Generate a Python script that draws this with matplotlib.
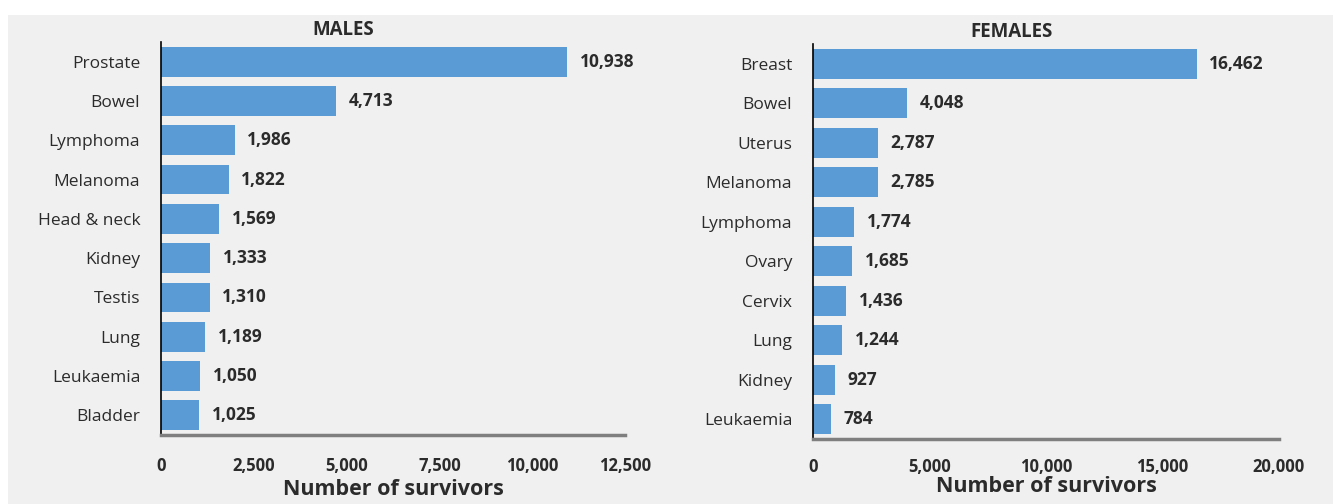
import matplotlib.pyplot as plt
from matplotlib.patches import Rectangle
from matplotlib.ticker import FuncFormatter

male_sites = ['Prostate', 'Bowel', 'Lymphoma', 'Melanoma', 'Head & neck',
              'Kidney', 'Testis', 'Lung', 'Leukaemia', 'Bladder']
male_counts = [10938, 4713, 1986, 1822, 1569, 1333, 1310, 1189, 1050, 1025]
male_ticks = [0, 2500, 5000, 7500, 10000, 12500]

female_sites = ['Breast', 'Bowel', 'Uterus', 'Melanoma', 'Lymphoma',
                'Ovary', 'Cervix', 'Lung', 'Kidney', 'Leukaemia']
female_counts = [16462, 4048, 2787, 2785, 1774, 1685, 1436, 1244, 927, 784]
female_ticks = [0, 5000, 10000, 15000, 20000]

plt.rcParams['font.family'] = ['Open Sans', 'DejaVu Sans']

bar_color = '#5b9bd5'
bg = '#f0f0f0'
txt = '#2b2b2b'

fig = plt.figure(figsize=(13.33, 5.04), dpi=100, facecolor='white')
# grey panel behind both charts, white strip above
fig.patches.append(Rectangle((8 / 1333, 0), 1, 1 - 15 / 504, transform=fig.transFigure,
                             facecolor=bg, edgecolor='none', zorder=-10))

ax_m = fig.add_axes([161 / 1333, 1 - 435 / 504, 464 / 1333, 393 / 504])
ax_f = fig.add_axes([813 / 1333, 1 - 439 / 504, 466 / 1333, 395 / 504])


def draw_panel(ax, sites, counts, ticks, title, title_x, tick_pad, label_pad):
    ax.set_facecolor('none')
    ypos = list(range(len(sites)))
    ax.barh(ypos, counts, height=0.76, color=bar_color)
    ax.set_ylim(len(sites) - 0.5, -0.5)
    ax.set_xlim(ticks[0], ticks[-1])
    ax.set_yticks(ypos)
    ax.set_yticklabels(sites, fontsize=12.5, color=txt)
    ax.set_xticks(ticks)
    ax.xaxis.set_major_formatter(FuncFormatter(lambda v, p: f'{int(v):,}'))
    for lab in ax.get_xticklabels():
        lab.set_fontweight('bold')
        lab.set_fontsize(12)
        lab.set_color(txt)
    ax.tick_params(axis='y', length=0, pad=15)
    ax.tick_params(axis='x', length=0, pad=tick_pad)
    for side in ('top', 'right'):
        ax.spines[side].set_visible(False)
    ax.spines['left'].set_color('black')
    ax.spines['left'].set_linewidth(1.2)
    ax.spines['bottom'].set_color('#7f7f7f')
    ax.spines['bottom'].set_linewidth(2.5)
    for y, v in zip(ypos, counts):
        ax.annotate(f'{v:,}', (v, y), xytext=(9, 0), textcoords='offset points',
                    va='center', ha='left', fontsize=12.5, fontweight='bold', color=txt)
    ax.set_xlabel('Number of survivors', fontsize=15.5, fontweight='bold',
                  color=txt, labelpad=label_pad)
    ax.text(title_x, 1.005, title, transform=ax.transAxes, ha='center', va='bottom',
            fontsize=13.5, fontweight='bold', color=txt)


draw_panel(ax_m, male_sites, male_counts, male_ticks, 'MALES', 0.392, 16, 3)
draw_panel(ax_f, female_sites, female_counts, female_ticks, 'FEMALES', 0.427, 14, 0)

fig.savefig('out.png', dpi=100, facecolor=fig.get_facecolor())
